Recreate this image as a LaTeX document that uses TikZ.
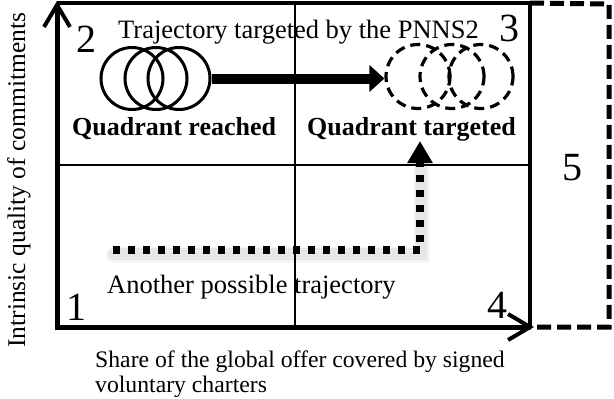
\documentclass[tikz,border=0pt]{standalone}
\usepackage{fontspec}
\setmainfont{Liberation Serif}
\usetikzlibrary{arrows.meta}

\newcommand{\fs}[1]{\fontsize{#1}{#1}\selectfont}

\begin{document}
\begin{tikzpicture}[x=1pt,y=-1pt,
  txt/.style={inner sep=0pt,anchor=base west},
  quadnum/.style={txt,font=\fs{40}},
  lbl/.style={txt,font=\fs{26.5}},
  blbl/.style={txt,font=\fs{26}\bfseries},
  axislbl/.style={txt,font=\fs{23.7}},
  axis/.style={line width=5pt,-{Straight Barb[length=22pt,width=26pt,line width=4pt]}},
  frame/.style={line width=4pt},
  grid/.style={line width=1.3pt},
  reached/.style={circle,draw,line width=3pt,minimum size=62pt,inner sep=0pt},
  targeted/.style={circle,draw,line width=3.2pt,dash pattern=on 10pt off 6pt,minimum size=64pt,inner sep=0pt},
  trajectory/.style={line width=10pt,-{Triangle[length=15pt,width=26pt]}},
  alt/.style={line width=8pt,dash pattern=on 7pt off 8pt,-{Triangle[length=22pt,width=24pt,sep=4pt]}},
  altshadow/.style={line width=12pt,black,opacity=0.06,line cap=round},
  zone/.style={line width=5pt,dash pattern=on 14pt off 6pt},
]
\useasboundingbox (0,0) rectangle (614,399);

% corner coordinates of the quadrant frame
\coordinate (bl) at (57,327);
\coordinate (tl) at (57,3);
\coordinate (tr) at (530,3);
\coordinate (br) at (530,327);
\coordinate (xend) at (534,327);
\coordinate (yend) at (57,1);

% extra zone 5 (dashed)
\coordinate (zt) at (609,4);
\coordinate (zb) at (609,327);
\draw[zone] (tr) -- (zt) -- (zb) -- (br);

% inner grid
\coordinate (mt) at (295,3);
\coordinate (mb) at (295,327);
\coordinate (ml) at (57,165);
\coordinate (mr) at (530,165);
\draw[grid] (mt) -- (mb);
\draw[grid] (ml) -- (mr);

% frame and axes
\draw[line width=3.5pt] (tl) -- (tr);
\draw[frame] (tr) -- (br);
\draw[axis] (55,327) -- (xend);
\draw[axis] (57,329) -- (yend);

% quadrant numbers
\node[quadnum] (n2) at (76,52) {2};
\node[quadnum] (n3) at (499,41) {3};
\node[quadnum] (n1) at (66,320) {1};
\node[quadnum] (n4) at (487,318) {4};
\node[quadnum] (n5) at (562,180) {5};

% labels
\node[lbl] (traj) at (118,38) {Trajectory targeted by the PNNS2};
\node[blbl] (qr) at (72,135) {Quadrant reached};
\node[blbl] (qt) at (307,135) {Quadrant targeted};
\node[lbl] (another) at (107,293) {Another possible trajectory};

% position reached
\node[reached] (r1) at (132,78.5) {};
\node[reached] (r2) at (156,78.5) {};
\node[reached] (r3) at (179,78.5) {};

% position targeted
\node[targeted] (t1) at (418,76.5) {};
\node[targeted] (t2) at (452,76.5) {};
\node[targeted] (t3) at (481,76.5) {};

\draw[trajectory] (r3.east) -- (r3.east -| t1.west);

% alternative path
\coordinate (as) at (113,250);
\coordinate (ac) at (420,250);
\coordinate (ae) at (420,137);
\draw[altshadow] (114,254) -- (421,254) -- (421,165);
\draw[altshadow,line width=16pt,opacity=0.04] (114,255) -- (422,255) -- (422,165);
\draw[alt] (as) -- (ac) -- (ae);

% axis titles
\node[txt,font=\fs{25.5},rotate=90] (ylab) at (25,348) {Intrinsic quality of commitments};
\node[axislbl] (xlab1) at (95,367) {Share of the global offer covered by signed};
\node[axislbl] (xlab2) at (95,392) {voluntary charters};
\end{tikzpicture}
\end{document}
